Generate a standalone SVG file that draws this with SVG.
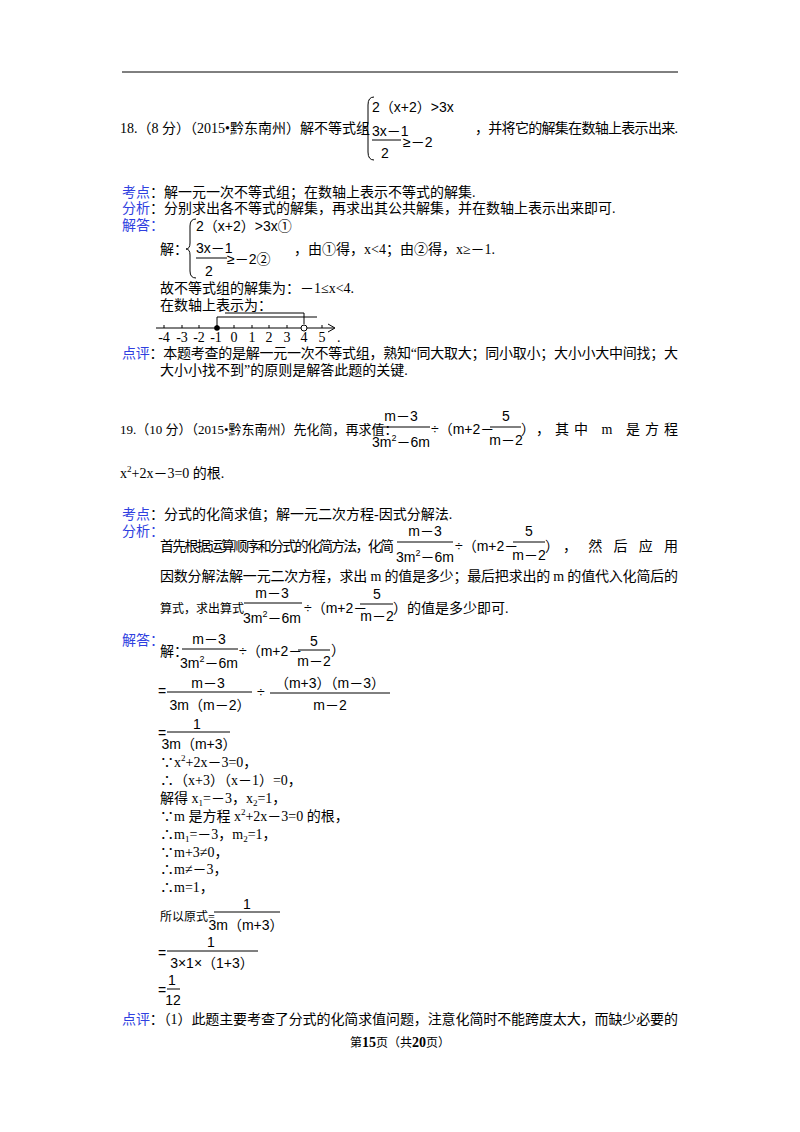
<svg xmlns="http://www.w3.org/2000/svg" width="800" height="1132" viewBox="0 0 800 1132">
<style>
text{font-family:"Liberation Serif","Noto Sans CJK SC",serif;font-size:14px;fill:#000}
.b{fill:#2f3fe0}
.m{font-family:"Liberation Sans","Noto Sans CJK SC",sans-serif;font-size:14px}
.s{font-size:9px}
.c{text-anchor:middle}
line,path{stroke:#000;stroke-width:1;fill:none}
</style>
<rect width="800" height="1132" fill="#fff"/>
<line x1="122" y1="72" x2="678" y2="72"/>
<g id="q18">
<text x="120" y="133">18.（8 分）（2015•黔东南州）解不等式组</text>
<path d="M374,97 Q368,97 368,105 L368,122 Q368,128 364,128 Q368,128 368,134 L368,152 Q368,160 374,160"/>
<text class="m" x="372" y="112">2（x+2）&gt;3x</text>
<text class="m" x="372" y="136">3x－1</text>
<line x1="372" y1="140" x2="401" y2="140"/>
<text class="m" x="381" y="158">2</text>
<text class="m" x="403" y="147">≥－2</text>
<text x="475" y="133" textLength="203">，并将它的解集在数轴上表示出来.</text>
<text x="122" y="197"><tspan class="b">考点</tspan>：解一元一次不等式组；在数轴上表示不等式的解集.</text>
<text x="122" y="213"><tspan class="b">分析</tspan>：分别求出各不等式的解集，再求出其公共解集，并在数轴上表示出来即可.</text>
<text x="122" y="230" class="b">解答：</text>
<path d="M196,219 Q190,219 190,226 L190,243 Q190,249 186,249 Q190,249 190,255 L190,271 Q190,278 196,278"/>
<text class="m" x="196" y="231">2（x+2）&gt;3x①</text>
<text x="160" y="254">解：</text>
<text class="m" x="196" y="253">3x－1</text>
<line x1="196" y1="258" x2="227" y2="258"/>
<text class="m" x="205" y="276">2</text>
<text class="m" x="227" y="264">≥－2②</text>
<text x="294" y="254">，由①得，x&lt;4；由②得，x≥－1.</text>
<text x="160" y="293">故不等式组的解集为：－1≤x&lt;4.</text>
<text x="160" y="310">在数轴上表示为：</text>
<g id="numberline">
<line x1="156" y1="328" x2="334" y2="328"/>
<path d="M328,324 L335,328 L328,332"/>
<path d="M164,325v3M182,325v3M199,325v3M217,325v3M234,325v3M252,325v3M269,325v3M287,325v3M304,325v3M322,325v3"/>
<path d="M217,328 V317 H317 M225,313 H304 V324"/>
<circle cx="217" cy="328" r="2.8" fill="#000" stroke="none"/>
<circle cx="304" cy="328" r="3" fill="#fff" stroke="#000"/>
<g class="m" style="font-size:12px">
<text class="c" x="164" y="342">-4</text><text class="c" x="182" y="342">-3</text><text class="c" x="199" y="342">-2</text><text class="c" x="216" y="342">-1</text><text class="c" x="234" y="342">0</text><text class="c" x="252" y="342">1</text><text class="c" x="269" y="342">2</text><text class="c" x="287" y="342">3</text><text class="c" x="304" y="342">4</text><text class="c" x="322" y="342">5</text><text x="337" y="342">.</text>
</g>
</g>
<text x="122" y="358" textLength="556"><tspan class="b">点评</tspan>：本题考查的是解一元一次不等式组，熟知“同大取大；同小取小；大小小大中间找；大</text>
<text x="160" y="375">大小小找不到”的原则是解答此题的关键.</text>
</g>
<g id="q19">
<text x="120" y="434" style="font-size:13px">19.（10 分）（2015•黔东南州）先化简，再求值：</text>
<text class="m c" x="401" y="421">m－3</text><line x1="373" y1="427" x2="430" y2="427"/><text class="m c" x="401" y="447">3m<tspan class="s" dy="-6">2</tspan><tspan dy="6">－6m</tspan></text>
<text class="m" x="431" y="434">÷（m+2－</text>
<text class="m c" x="506" y="421">5</text><line x1="490" y1="427" x2="521" y2="427"/><text class="m c" x="506" y="445">m－2</text>
<text class="m" x="521" y="434">）</text>
<text x="536" y="434" textLength="142">，其中 m 是方程</text>
<text x="120" y="478">x<tspan class="s" dy="-6">2</tspan><tspan dy="6">+2x－3=0 的根.</tspan></text>
<text x="122" y="519"><tspan class="b">考点</tspan>：分式的化简求值；解一元二次方程-因式分解法.</text>
<text x="122" y="536" class="b">分析：</text>
<text x="160" y="551" textLength="234">首先根据运算顺序和分式的化简方法，化简</text>
<text class="m c" x="425" y="536">m－3</text><line x1="397" y1="542" x2="453" y2="542"/><text class="m c" x="425" y="562">3m<tspan class="s" dy="-6">2</tspan><tspan dy="6">－6m</tspan></text>
<text class="m" x="455" y="551">÷（m+2－</text>
<text class="m c" x="529" y="536">5</text><line x1="513" y1="542" x2="545" y2="542"/><text class="m c" x="529" y="560">m－2</text>
<text class="m" x="545" y="551">）</text>
<text x="563" y="551" textLength="115">，然后应用</text>
<text x="160" y="581" textLength="518">因数分解法解一元二次方程，求出 m 的值是多少；最后把求出的 m 的值代入化简后的</text>
<text x="160" y="613" style="font-size:12px">算式，求出算式</text>
<text class="m c" x="272" y="598">m－3</text><line x1="244" y1="603" x2="302" y2="603"/><text class="m c" x="272" y="623">3m<tspan class="s" dy="-6">2</tspan><tspan dy="6">－6m</tspan></text>
<text class="m" x="304" y="613">÷（m+2－</text>
<text class="m c" x="377" y="599">5</text><line x1="360" y1="604" x2="393" y2="604"/><text class="m c" x="377" y="621">m－2</text>
<text x="393" y="613">）的值是多少即可.</text>
<text x="122" y="645" class="b">解答：</text>
<text x="160" y="656">解：</text>
<text class="m c" x="209" y="644">m－3</text><line x1="182" y1="649" x2="238" y2="649"/><text class="m c" x="209" y="668">3m<tspan class="s" dy="-6">2</tspan><tspan dy="6">－6m</tspan></text>
<text class="m" x="239" y="656">÷（m+2－</text>
<text class="m c" x="314" y="646">5</text><line x1="298" y1="650" x2="330" y2="650"/><text class="m c" x="314" y="666">m－2</text>
<text class="m" x="331" y="655">）</text>
<text class="m" x="158" y="696">=</text>
<text class="m c" x="208" y="688">m－3</text><line x1="167" y1="692" x2="252" y2="692"/><text class="m c" x="210" y="710">3m（m－2）</text>
<text class="m" x="257" y="697">÷</text>
<text class="m c" x="330" y="688">（m+3）（m－3）</text><line x1="270" y1="693" x2="390" y2="693"/><text class="m c" x="330" y="710">m－2</text>
<text class="m" x="158" y="738">=</text>
<text class="m c" x="197" y="729">1</text><line x1="167" y1="732" x2="230" y2="732"/><text class="m c" x="199" y="749">3m（m+3）</text>
<text x="160" y="767">∵x<tspan class="s" dy="-6">2</tspan><tspan dy="6">+2x－3=0，</tspan></text>
<text x="160" y="785">∴（x+3）（x－1）=0，</text>
<text x="160" y="803">解得 x<tspan class="s" dy="3">1</tspan><tspan dy="-3">=－3，x</tspan><tspan class="s" dy="3">2</tspan><tspan dy="-3">=1，</tspan></text>
<text x="160" y="821">∵m 是方程 x<tspan class="s" dy="-6">2</tspan><tspan dy="6">+2x－3=0 的根，</tspan></text>
<text x="160" y="839">∴m<tspan class="s" dy="3">1</tspan><tspan dy="-3">=－3，m</tspan><tspan class="s" dy="3">2</tspan><tspan dy="-3">=1，</tspan></text>
<text x="160" y="857">∵m+3≠0，</text>
<text x="160" y="874">∴m≠－3，</text>
<text x="160" y="892">∴m=1，</text>
<text x="160" y="921" style="font-size:12px">所以原式=</text>
<text class="m c" x="247" y="909">1</text><line x1="214" y1="912" x2="280" y2="912"/><text class="m c" x="246" y="930">3m（m+3）</text>
<text class="m" x="158" y="958">=</text>
<text class="m c" x="211" y="947">1</text><line x1="167" y1="951" x2="258" y2="951"/><text class="m c" x="212" y="968">3×1×（1+3）</text>
<text class="m" x="158" y="995">=</text>
<text class="m c" x="172" y="985">1</text><line x1="167" y1="989" x2="180" y2="989"/><text class="m c" x="173" y="1005">12</text>
<text x="122" y="1024" textLength="556"><tspan class="b">点评</tspan>：（1）此题主要考查了分式的化简求值问题，注意化简时不能跨度太大，而缺少必要的</text>
</g>
<text class="c" x="400" y="1047" style="font-size:12px">第<tspan style="font-weight:bold;font-size:14px">15</tspan>页（共<tspan style="font-weight:bold;font-size:14px">20</tspan>页）</text>
</svg>
